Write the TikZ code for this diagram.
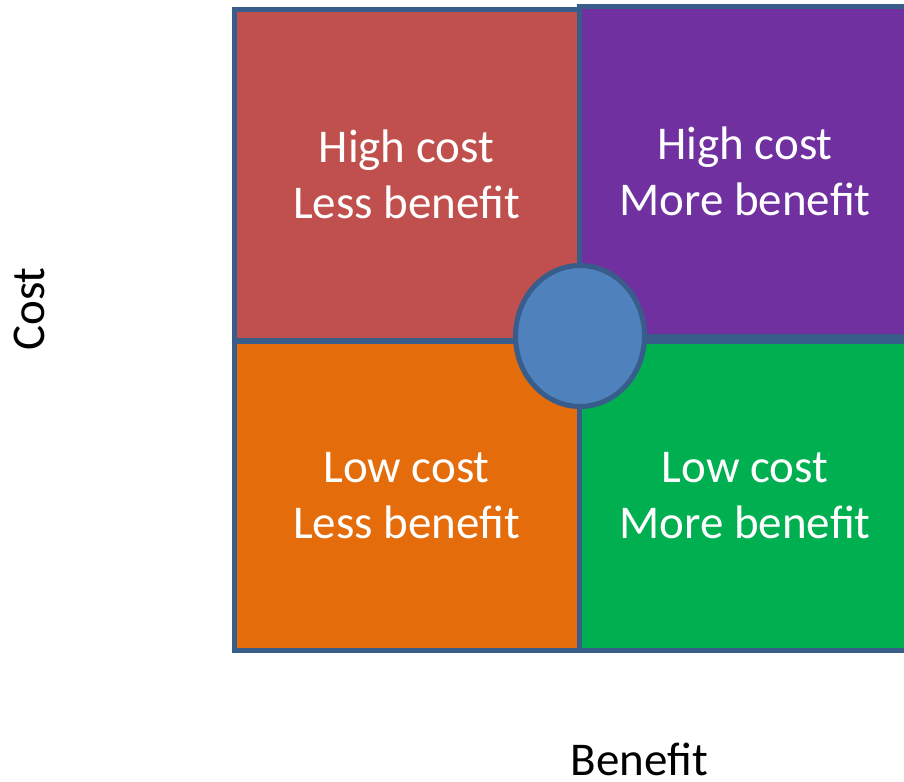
\documentclass[tikz,border=0pt]{standalone}
\usepackage{fontspec}
\setmainfont{Carlito}
\usetikzlibrary{shapes.geometric}
\definecolor{edgeblue}{HTML}{385D8A}
\definecolor{qred}{HTML}{C0504D}
\definecolor{qpurple}{HTML}{7030A0}
\definecolor{qorange}{HTML}{E46C0A}
\definecolor{qgreen}{HTML}{00B050}
\definecolor{qcircle}{HTML}{4F81BD}
\tikzset{
  quad/.style={draw=edgeblue, line width=5pt, rectangle, inner sep=0pt,
    text=white, align=center, font=\fontsize{47}{56}\selectfont},
  axislabel/.style={text=black, inner sep=0pt, font=\fontsize{47}{56}\selectfont},
}
\begin{document}
\begin{tikzpicture}[x=1pt,y=-1pt]
\useasboundingbox (0,0) rectangle (904,781);
\clip (0,0) rectangle (904,781);
\fill[white] (0,0) rectangle (904,781);
\node[quad, fill=qred, minimum width=345pt, minimum height=330.5pt] (hl) at (406.5,174.75) {High cost\\Less benefit};
\node[quad, fill=qpurple, minimum width=332pt, minimum height=329.5pt] (hm) at (745,171.25) {High cost\\More benefit};
\node[quad, fill=qorange, minimum width=345pt, minimum height=309.5pt] (ll) at (406.5,495.75) {Low cost\\Less benefit};
\node[quad, fill=qgreen, minimum width=332pt, minimum height=309.5pt] (lm) at (745,495.75) {Low cost\\More benefit};
\node[draw=edgeblue, line width=5pt, fill=qcircle, ellipse, inner sep=0pt, minimum width=129pt, minimum height=141pt] (mid) at (580,336) {};
\node[axislabel, rotate=90] (cost) at (29,309) {Cost};
\node[axislabel, anchor=base] (benefit) at (639.5,775) {Benefit};
\end{tikzpicture}
\end{document}
